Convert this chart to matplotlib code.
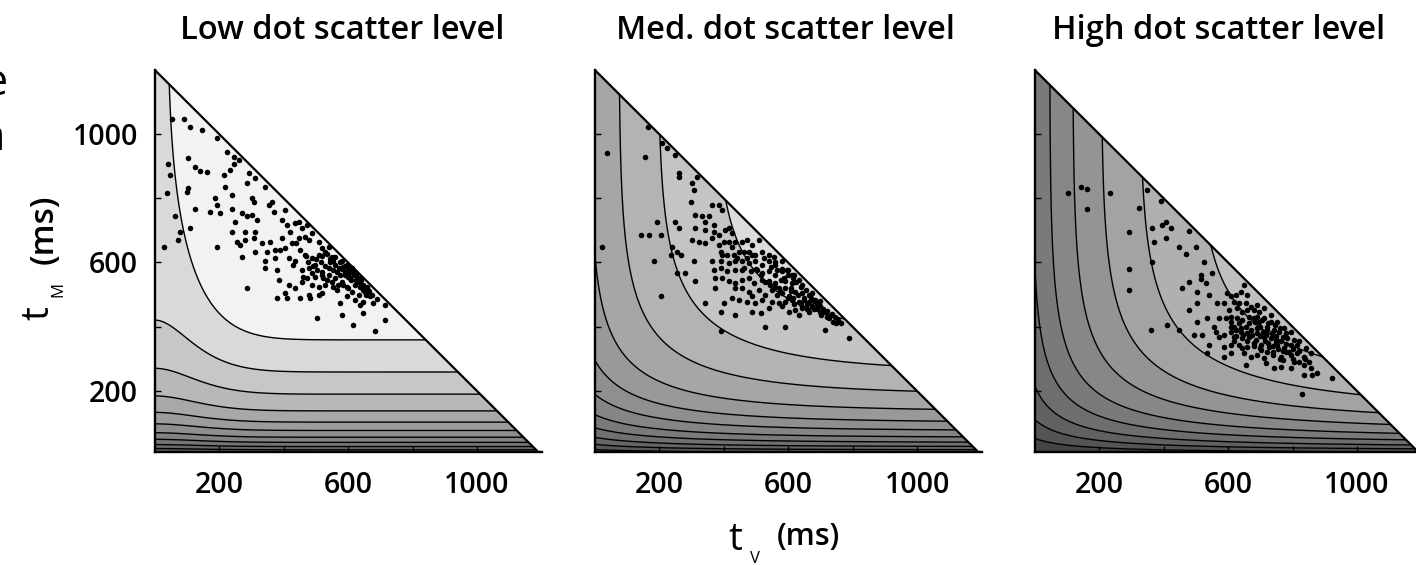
import numpy as np
import matplotlib
matplotlib.use("Agg")
import matplotlib.pyplot as plt
from matplotlib.patches import Polygon

plt.rcParams["font.family"] = ["Open Sans", "DejaVu Sans"]

# ---------------------------------------------------------------- data
PANEL_TITLES = ["Low dot scatter level", "Med. dot scatter level", "High dot scatter level"]
TICKS = [200, 600, 1000]
MINOR_TICKS = [400, 800]
T_MAX = 1200          # t_V + t_M budget (ms)
T_MIN = 10            # lower edge of the t_M axis (ms)

# performance surface: f(tV, tM) = G(tV) * H(tM)
H_TAU = 200.0                                             # ms, memory time constant
LEVEL_TM = [9, 17, 27, 40, 56, 77, 103, 138, 190, 259, 359]  # tM asymptote of each iso-line
G_PARAMS = [(0.827, 200.0, 1.95),   # (floor, tau, shape) for the visual term
            (0.52, 350.0, 1.0),
            (0.19, 680.0, 1.0)]

LOW_SCATTER = [(54,1046),(93,1046),(111,1023),(147,1012),(193,988),(224,945),(245,929),(105,924),(43,905),(126,898),(142,885),(162,883),(245,905),(235,888),(214,872),(49,872),(105,831),(100,818),(286,846),(38,815),(219,836),(188,802),(240,810),(302,800),(307,787),(343,836),(364,787),(369,758),(354,779),(193,779),(173,758),(204,753),(240,766),(271,753),(286,743),(302,748),(317,732),(126,766),(64,743),(80,696),(74,670),(111,706),(250,727),(240,696),(281,696),(312,696),(395,732),(410,717),(436,722),(421,696),(395,675),(457,706),(472,717),(255,665),(266,654),(281,670),(307,675),(333,660),(359,665),(348,634),(374,639),(390,639),(405,644),(426,660),(447,675),(467,680),(478,670),(488,691),(509,665),(519,644),(540,649),(28,649),(193,649),(271,618),(312,634),(343,603),(374,613),(416,613),(436,603),(467,623),(488,613),(509,623),(529,634),(550,618),(560,618),(581,603),(597,592),(612,582),(622,571),(343,582),(379,577),(385,546),(431,592),(457,577),(478,582),(498,592),(519,571),(540,582),(560,592),(576,561),(591,571),(607,551),(633,551),(648,530),(416,530),(436,520),(457,540),(472,551),(488,530),(509,525),(519,504),(529,530),(550,540),(566,515),(581,540),(597,525),(612,509),(633,499),(653,509),(669,494),(405,504),(410,489),(379,489),(452,489),(478,499),(483,489),(509,499),(576,473),(597,494),(622,483),(638,468),(648,478),(679,473),(715,468),(503,426),(581,437),(648,442),(715,421),(617,404),(684,387),(286,520),(555,603),(571,582),(586,587),(602,566),(617,566),(622,530),(540,561),(560,551),(524,551),(498,556),(638,525),(659,525),(488,566),(462,556),(261,919),(292,877),(312,862),(405,763),(447,727),
               (500,610),(515,600),(530,590),(545,600),(555,575),(565,570),(580,580),(590,560),(600,555),(610,545),(620,560),(625,545),(635,540),(645,515),(655,500),(660,520),(600,520),(585,530),(570,530),(555,525),(535,545),(520,560),(505,575),(490,590),(475,600),(470,620),(450,640),(440,660),(520,620),(535,625),(545,610),(575,600),(590,590),(600,582),(612,572),(625,560),(640,545),(665,510),(675,500),(690,485)]

MED_SCATTER = [(39,940),(158,929),(165,1020),(210,971),(225,955),(251,935),(262,878),(262,867),(318,865),(303,846),(308,826),(298,789),(194,727),(251,727),(262,706),(313,748),(334,743),(355,743),(344,727),(370,717),(365,779),(386,779),(396,763),(313,706),(344,701),(370,696),(386,686),(406,701),(417,706),(427,691),(143,686),(168,686),(205,686),(303,670),(324,665),(344,660),(365,675),(386,655),(401,665),(417,665),(427,649),(437,665),(458,665),(473,670),(489,655),(510,670),(24,649),(241,649),(256,634),(236,623),(267,623),(391,634),(396,623),(411,623),(432,623),(448,634),(463,634),(479,634),(499,623),(520,634),(541,623),(556,618),(184,603),(308,603),(365,603),(391,603),(417,598),(437,603),(458,603),(479,598),(499,603),(520,592),(541,603),(561,592),(582,603),(256,566),(282,566),(370,577),(391,582),(411,572),(437,577),(463,582),(484,572),(505,577),(520,566),(541,572),(561,561),(582,572),(598,577),(613,561),(313,541),(375,551),(396,551),(417,541),(437,535),(458,546),(479,551),(494,535),(520,546),(541,541),(561,535),(577,546),(592,541),(613,535),(634,546),(644,530),(205,494),(375,520),(437,520),(458,520),(479,509),(489,494),(510,515),(530,499),(551,515),(567,499),(582,504),(603,494),(623,509),(644,504),(665,499),(675,504),(344,473),(401,473),(427,489),(448,483),(474,478),(499,473),(520,483),(551,478),(572,473),(592,478),(613,483),(634,478),(665,478),(685,483),(391,447),(437,437),(489,447),(515,442),(541,458),(582,463),(603,447),(623,452),(644,458),(665,447),(691,458),(716,447),(732,437),(530,400),(592,400),(391,387),(716,390),(789,366),(489,623),(525,613),(546,587),(567,577),(587,551),(608,520),(649,483),(675,463),(701,437),(727,426),(748,411),(634,437),(572,520),(458,577),(473,613),(442,613),
               (600,560),(615,550),(625,540),(640,525),(655,515),(670,490),(680,480),(690,470),(700,465),(710,455),(720,450),(735,440),(745,430),(755,420),(765,410),(650,490),(660,470),(640,470),(620,470),(600,490),(610,510),(590,520),(630,500),(615,490),(700,445),(720,430),(680,455),(660,455),(740,415),(560,525),(575,510),(545,530),(530,540),(515,560),(500,580),(560,600),(580,580),(600,575),(620,560),(700,480)]

HIGH_SCATTER = [(143,835),(164,829),(105,816),(164,767),(234,815),(350,825),(393,790),(324,768),(407,727),(396,716),(422,706),(365,706),(293,694),(479,698),(370,665),(407,675),(448,649),(500,649),(469,625),(365,600),(526,602),(551,566),(515,561),(515,548),(293,579),(479,540),(531,535),(458,519),(505,509),(293,514),(541,499),(650,530),(598,504),(608,494),(624,499),(639,509),(660,499),(505,473),(567,473),(588,473),(619,478),(634,473),(655,473),(670,462),(691,468),(479,452),(603,452),(629,457),(644,447),(660,452),(681,452),(696,447),(712,457),(732,436),(536,426),(572,426),(593,426),(608,431),(629,426),(644,421),(665,431),(681,426),(696,416),(712,426),(732,416),(753,416),(505,416),(360,390),(557,400),(562,385),(572,369),(608,400),(624,390),(639,385),(655,400),(670,390),(691,395),(707,385),(722,400),(743,390),(758,385),(774,395),(794,385),(495,374),(520,374),(588,374),(619,369),(644,364),(665,369),(686,359),(712,369),(732,364),(748,359),(769,369),(784,364),(805,359),(820,354),(541,343),(588,338),(608,343),(634,343),(660,338),(681,348),(701,343),(727,338),(748,348),(774,333),(794,343),(815,343),(841,333),(536,317),(588,307),(608,317),(650,317),(670,307),(691,312),(712,302),(738,312),(763,307),(794,312),(815,317),(836,307),(856,317),(655,281),(717,286),(743,271),(763,276),(794,271),(836,281),(856,271),(836,250),(862,250),(877,255),(924,240),(831,190),(412,405),(448,390),(608,416),(634,411),(691,431),(717,374),(753,343),(779,322),(805,291),(619,354),(644,333),(701,328),(769,297),
                (620,400),(640,395),(660,380),(675,375),(690,380),(700,370),(715,355),(725,350),(740,340),(755,330),(770,325),(790,320),(800,330),(820,325),(840,300),(850,290),(700,400),(720,390),(735,380),(750,370),(765,355),(780,345),(800,300),(820,290),(760,300),(740,320),(720,320),(700,335),(680,340),(660,355),(645,375),(625,370),(610,385),(665,410),(685,415),(705,420),(725,410),(745,405),(760,395),(780,380)]

SCATTERS = [LOW_SCATTER, MED_SCATTER, HIGH_SCATTER]

# grey of each band between iso-lines, lowest band first
BAND_GREYS = [
    [0.30, 0.36, 0.41, 0.46, 0.51, 0.56, 0.61, 0.66, 0.72, 0.78, 0.85, 0.95],
    [0.30, 0.35, 0.40, 0.44, 0.48, 0.52, 0.56, 0.60, 0.65, 0.70, 0.77, 0.86],
    [0.27, 0.33, 0.38, 0.43, 0.48, 0.53, 0.58, 0.64, 0.69, 0.75, 0.79, 0.83],
]


def h_term(t):
    return 1.0 - np.exp(-t / H_TAU)


def g_term(t, floor, tau, shape):
    return 1.0 - (1.0 - floor) * np.exp(-(t / tau) ** shape)


# ---------------------------------------------------------------- figure
W, HPX = 1416, 565
fig = plt.figure(figsize=(W / 100, HPX / 100), dpi=100)

PX_PER_MS_X = 0.3225
PX_PER_MS_Y = 0.3213
AX_LEFTS = [154.5, 594.5, 1034.5]
AX_BOTTOM_FROM_TOP = 452.0
ax_w = T_MAX * PX_PER_MS_X
ax_h = (T_MAX - T_MIN) * PX_PER_MS_Y

tv = np.linspace(0, T_MAX, 500)
tm = np.linspace(0, T_MAX, 500)
TV, TM = np.meshgrid(tv, tm)
levels = list(h_term(np.array(LEVEL_TM, dtype=float)))
fill_levels = [-0.01] + levels + [1.01]

tick_font = dict(size=20.5, weight="semibold")

for k in range(3):
    ax = fig.add_axes([AX_LEFTS[k] / W, (HPX - AX_BOTTOM_FROM_TOP) / HPX, ax_w / W, ax_h / HPX])
    ax.set_xlim(0, T_MAX)
    ax.set_ylim(T_MIN, T_MAX)

    F = g_term(TV, *G_PARAMS[k]) * h_term(TM)
    tri = Polygon([(0, T_MIN), (T_MAX - T_MIN, T_MIN), (0, T_MAX)], closed=True,
                  facecolor="none", edgecolor="none", transform=ax.transData)
    ax.add_patch(tri)

    cf = ax.contourf(TV, TM, F, levels=fill_levels,
                     colors=[str(g) for g in BAND_GREYS[k]], antialiased=True)
    cf.set_clip_path(tri)
    cl = ax.contour(TV, TM, F, levels=levels, colors="black", linewidths=1.0)
    cl.set_clip_path(tri)

    pts = np.array(SCATTERS[k], dtype=float)
    ax.scatter(pts[:, 0], pts[:, 1], s=16, c="black", marker="o", linewidths=0, zorder=5)

    # hypotenuse of the admissible region
    ax.plot([0, T_MAX - T_MIN], [T_MAX, T_MIN], color="black", lw=1.6,
            solid_capstyle="butt", clip_on=False, zorder=6)

    for side in ("top", "right"):
        ax.spines[side].set_visible(False)
    for side in ("left", "bottom"):
        ax.spines[side].set_linewidth(1.7)
        ax.spines[side].set_zorder(7)

    ax.set_xticks(TICKS)
    ax.set_xticks(MINOR_TICKS, minor=True)
    ax.set_yticks(TICKS)
    ax.set_yticks(MINOR_TICKS, minor=True)
    ax.tick_params(which="both", direction="in", length=4, width=1, color="black")
    ax.tick_params(axis="x", pad=14)
    ax.tick_params(axis="y", pad=12)
    ax.set_xticklabels([str(t) for t in TICKS], fontdict=tick_font)
    if k == 0:
        ax.set_yticklabels([str(t) for t in TICKS], fontdict=tick_font)
    else:
        ax.set_yticklabels([])
    ax.set_facecolor("none")

# panel titles
TITLE_X = [342, 785, 1219]
for k, title in enumerate(PANEL_TITLES):
    fig.text(TITLE_X[k] / W, (HPX - 39) / HPX, title, ha="center", va="baseline",
             fontsize=23.5, weight="semibold")


def px_text(x, y, s, **kw):
    fig.text(x / W, (HPX - y) / HPX, s, **kw)


# x axis label: t_V (ms)
px_text(728, 550, "t", fontsize=28, ha="left", va="baseline")
px_text(750, 563, "V", fontsize=12, ha="left", va="baseline")
px_text(777, 545, "(ms)", fontsize=22, weight="semibold", ha="left", va="baseline")

# y axis label: t_M (ms)
rot = dict(rotation=90, rotation_mode="anchor", ha="left", va="baseline")
px_text(48, 320, "t", fontsize=28, **rot)
px_text(62, 297, "M", fontsize=12, **rot)
px_text(53, 264, "(ms)", fontsize=24, weight="semibold", **rot)

# fragments of neighbouring text at the left border
px_text(8, 95, "e", fontsize=31, ha="right", va="baseline")
px_text(5, 150, "n", fontsize=31, ha="right", va="baseline")

fig.savefig("out.png", dpi=100, facecolor="white")
